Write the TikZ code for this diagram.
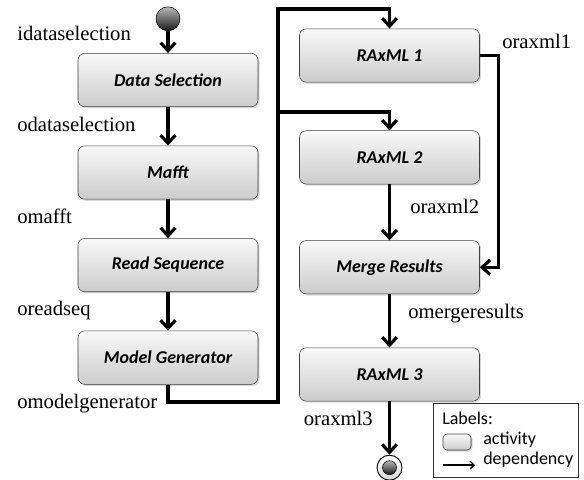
\documentclass[tikz,border=0pt]{standalone}
\usepackage{fontspec}
\setmainfont{Liberation Serif}
\setsansfont{Carlito}
\usetikzlibrary{arrows.meta, positioning, shadows}

\begin{document}
\begin{tikzpicture}[
    x=0.75pt, y=-0.75pt,
    activity/.style={draw=black!75, rounded corners=5pt, top color=gray!5, bottom color=gray!40,
        minimum width=135pt, minimum height=40pt, inner sep=0pt,
        font=\fontsize{13.5}{16}\selectfont\sffamily\bfseries\itshape,
        drop shadow={shadow xshift=1.2pt, shadow yshift=-1.2pt, opacity=0.3}},
    dep/.style={-{Straight Barb[length=6pt,width=11pt]}, line width=2.4pt},
    lbl/.style={inner sep=0pt, font=\fontsize{15.5}{18}\selectfont},
    legtext/.style={inner sep=0pt, anchor=base west, font=\fontsize{13.5}{16}\selectfont\sffamily},
    ball/.style={circle, draw=black, top color=gray!55, bottom color=black!90, inner sep=0pt},
    startnode/.style={ball, minimum size=18pt},
    endnode/.style={circle, draw=black, line width=0.7pt, top color=white, bottom color=gray!30, minimum size=18.75pt, inner sep=0pt}
]
\useasboundingbox (0,0) rectangle (584,479);

% left column
\node[activity] (ds) at (168,80) {Data Selection};
\node[startnode, above=16.5pt of ds] (start) {};
\node[activity, below=29pt of ds] (mafft) {Mafft};
\node[activity, below=29pt of mafft] (rs) {Read Sequence};
\node[activity, below=29pt of rs] (mg) {Model Generator};

% right column
\node[activity] (r1) at (389.5,55.5) {RAxML 1};
\node[activity, below=36pt of r1] (r2) {RAxML 2};
\node[activity, below=42pt of r2] (mr) {Merge Results};
\node[activity, below=40pt of mr] (r3) {RAxML 3};
\node[endnode, below=40pt of r3] (fin) {};
\node[ball, minimum size=10.5pt] (finin) at (fin) {};

% data labels
\node[lbl, anchor=base west] (lds) at (17,40) {idataselection};
\node[lbl, anchor=base west] (lods) at (17,131) {odataselection};
\node[lbl, anchor=base west] (lmafft) at (17,223) {omafft};
\node[lbl, anchor=base west] (lrs) at (17,315) {oreadseq};
\node[lbl, anchor=base west] (lmg) at (17,408) {omodelgenerator};
\node[lbl, anchor=base west] (lr1) at (502,48) {oraxml1};
\node[lbl, anchor=base west] (lr2) at (410,213) {oraxml2};
\node[lbl, anchor=base west] (lmr) at (408,318) {omergeresults};
\node[lbl, anchor=base east] (lr3) at (373,425) {oraxml3};

% trunk feeding both RAxML runs
\coordinate (trunkbot) at (278,402);
\coordinate (trunktop) at (278,9);
\coordinate (fork) at (278,112);

\draw[dep] (start) -- (ds);
\draw[dep] (ds) -- (mafft);
\draw[dep] (mafft) -- (rs);
\draw[dep] (rs) -- (mg);
\draw[dep] (mg.south) |- (trunkbot) -- (trunktop) -| (r1.north);
\draw[dep] (fork) -| (r2.north);
\draw[dep] (r1.east) -- ++(19,0) |- (mr.east);
\draw[dep] (r2) -- (mr);
\draw[dep] (mr) -- (r3);
\draw[dep] (r3) -- (fin);

% legend
\draw[black!80, line width=0.6pt] (433,403) rectangle (578,477);
\node[legtext] (legtitle) at (442,424) {Labels:};
\node[activity, minimum width=21pt, minimum height=12pt, rounded corners=3pt,
    drop shadow={shadow xshift=0.6pt, shadow yshift=-0.6pt, opacity=0.3}] (legbox) at (457,442) {};
\node[legtext] (legact) at (483,444) {activity};
\coordinate (legfrom) at (443,465);
\coordinate (legto) at (475,465);
\draw[-{Straight Barb[length=3pt,width=6pt]}, line width=1pt] (legfrom) -- (legto);
\node[legtext] (legdep) at (483,464) {dependency};
\end{tikzpicture}
\end{document}
